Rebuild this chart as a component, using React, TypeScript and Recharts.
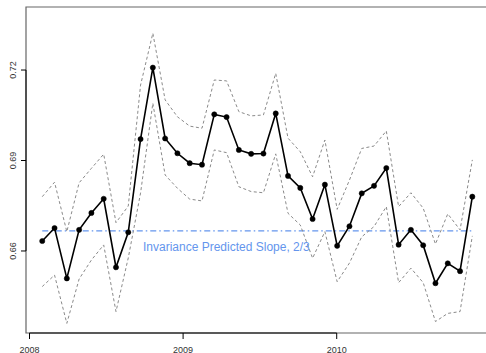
import {
  ComposedChart,
  Line,
  XAxis,
  YAxis,
  ReferenceLine,
  ReferenceArea,
  ReferenceDot,
} from 'recharts';

// decimal-year positions of the estimates
const dates = [
  2008.083, 2008.163, 2008.243, 2008.323, 2008.403, 2008.483, 2008.563, 2008.643, 2008.723,
  2008.803, 2008.883, 2008.963, 2009.043, 2009.123, 2009.203, 2009.283, 2009.363, 2009.443,
  2009.523, 2009.603, 2009.683, 2009.763, 2009.843, 2009.923, 2010.003, 2010.083, 2010.163,
  2010.243, 2010.323, 2010.403, 2010.483, 2010.563, 2010.643, 2010.723, 2010.803, 2010.883,
];

const slope = [
  0.6633, 0.6676, 0.6509, 0.667, 0.6726, 0.6773, 0.6546, 0.6662, 0.6971,
  0.7208, 0.6973, 0.6924, 0.6891, 0.6886, 0.7053, 0.7044, 0.6935, 0.6922,
  0.6923, 0.7056, 0.6849, 0.6809, 0.6706, 0.682, 0.6617, 0.6682, 0.6791,
  0.6816, 0.6875, 0.6621, 0.667, 0.6619, 0.6493, 0.6559, 0.6533, 0.678,
];

const upper = [
  0.678, 0.6828, 0.6664, 0.6826, 0.6874, 0.6921, 0.6694, 0.6749, 0.715,
  0.7322, 0.7101, 0.7045, 0.7014, 0.7007, 0.7167, 0.7164, 0.7062, 0.7048,
  0.7051, 0.7189, 0.6974, 0.6929, 0.6846, 0.6968, 0.6738, 0.6835, 0.694,
  0.6948, 0.6998, 0.6747, 0.6793, 0.6742, 0.6623, 0.6723, 0.667, 0.6902,
];

const lower = [
  0.6482, 0.652, 0.636, 0.6507, 0.657, 0.662, 0.6399, 0.6577, 0.6792,
  0.709, 0.6852, 0.6808, 0.6772, 0.6766, 0.6935, 0.6926, 0.6813, 0.6797,
  0.6793, 0.6922, 0.6725, 0.6686, 0.6576, 0.6664, 0.6498, 0.656, 0.6647,
  0.6681, 0.6747, 0.6495, 0.6543, 0.6495, 0.6366, 0.6393, 0.6399, 0.665,
];

const yearTicks = [2008, 2009, 2010];
const slopeTicks = [0.66, 0.69, 0.72];
const predicted = 2 / 3;
const label = 'Invariance Predicted Slope, 2/3';

const X_DOMAIN: [number, number] = [2007.9772, 2010.998];
const Y_DOMAIN: [number, number] = [0.6328, 0.7409];

const rows = dates.map((t, i) => ({ t, slope: slope[i], upper: upper[i], lower: lower[i] }));

const FONT = '"Liberation Sans", Arial, sans-serif';

function YTick({ x, y, payload }: any) {
  return (
    <text
      x={x - 5}
      y={y}
      transform={`rotate(-90, ${x - 5}, ${y})`}
      textAnchor="middle"
      fontSize={9}
      fontFamily={FONT}
      fill="#333"
    >
      {payload.value.toFixed(2)}
    </text>
  );
}

function XTick({ x, payload }: any) {
  return (
    <text x={x} y={352.5} textAnchor="middle" fontSize={9} fontFamily={FONT} fill="#333">
      {payload.value}
    </text>
  );
}

export default function App() {
  return (
    <div
      style={{
        position: 'absolute',
        left: 0,
        top: 0,
        width: 486,
        height: 353,
        overflow: 'hidden',
        background: '#fff',
      }}
    >
      <ComposedChart width={490} height={353} data={rows} margin={{ top: 7, right: 0, bottom: 0, left: 0 }}>
        <XAxis
          dataKey="t"
          type="number"
          domain={X_DOMAIN}
          ticks={yearTicks}
          allowDataOverflow
          axisLine={false}
          tickLine={{ stroke: '#000' }}
          tickSize={6}
          height={20}
          tick={<XTick />}
          interval={0}
        />
        <YAxis
          type="number"
          domain={Y_DOMAIN}
          ticks={slopeTicks}
          allowDataOverflow
          axisLine={false}
          tickLine={{ stroke: '#000' }}
          tickSize={5}
          tickMargin={0}
          width={26}
          tick={<YTick />}
          interval={0}
        />
        <ReferenceArea
          x1={X_DOMAIN[0]}
          x2={X_DOMAIN[1]}
          y1={Y_DOMAIN[0]}
          y2={Y_DOMAIN[1]}
          fill="none"
          stroke="#666"
          strokeWidth={1.2}
          ifOverflow="visible"
        />
        <ReferenceLine
          segment={[
            { x: yearTicks[0], y: Y_DOMAIN[0] },
            { x: yearTicks[2], y: Y_DOMAIN[0] },
          ]}
          stroke="#000"
          ifOverflow="visible"
        />
        <ReferenceLine
          segment={[
            { x: X_DOMAIN[0], y: slopeTicks[0] },
            { x: X_DOMAIN[0], y: slopeTicks[2] },
          ]}
          stroke="#000"
          ifOverflow="visible"
        />
        <ReferenceLine
          segment={[
            { x: dates[0], y: predicted },
            { x: dates[dates.length - 1], y: predicted },
          ]}
          stroke="#6495ED"
          strokeWidth={1.2}
          strokeDasharray="6 3 1.5 3"
        />
        <ReferenceDot
          x={2008.739}
          y={0.6613}
          r={0}
          fill="none"
          stroke="none"
          label={{
            value: label,
            position: 'right',
            offset: 0,
            fill: '#6495ED',
            fontSize: 12,
            fontFamily: FONT,
          }}
        />
        <Line
          dataKey="upper"
          stroke="#8a8a8a"
          strokeWidth={1}
          strokeDasharray="3 2.5"
          dot={false}
          isAnimationActive={false}
        />
        <Line
          dataKey="lower"
          stroke="#8a8a8a"
          strokeWidth={1}
          strokeDasharray="3 2.5"
          dot={false}
          isAnimationActive={false}
        />
        <Line
          dataKey="slope"
          stroke="#000"
          strokeWidth={1.6}
          dot={{ r: 2.6, fill: '#000', stroke: '#000', strokeWidth: 0.5 }}
          isAnimationActive={false}
        />
      </ComposedChart>
    </div>
  );
}
